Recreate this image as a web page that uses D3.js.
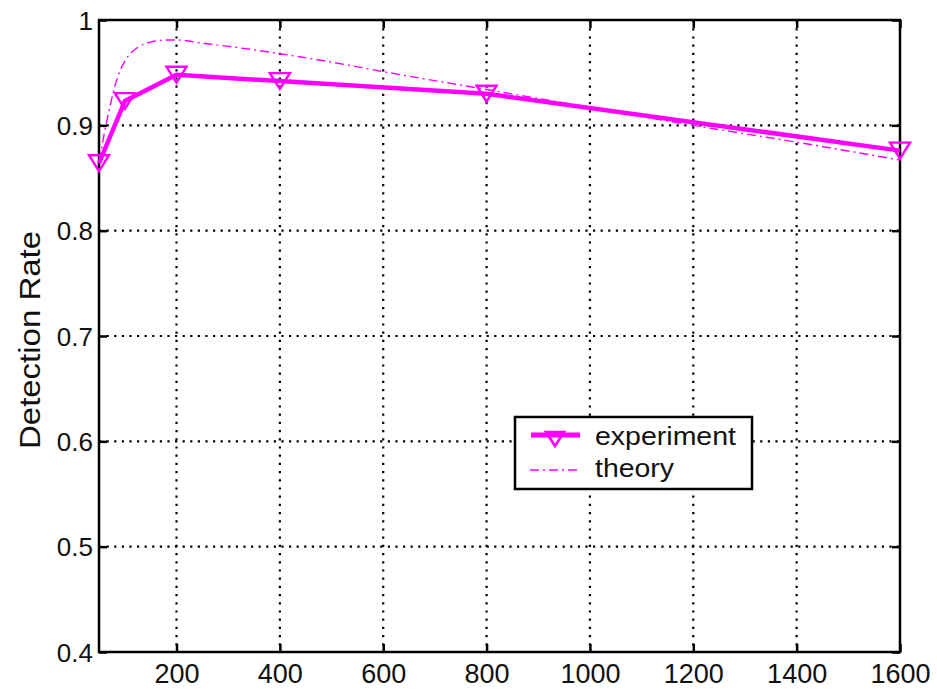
<!DOCTYPE html>
<html>
<head>
<meta charset="utf-8">
<script src="https://cdn.jsdelivr.net/npm/d3@7/dist/d3.min.js"></script>
<style>
  html, body { margin: 0; padding: 0; background: #fff; }
  svg { display: block; }
  text { font-family: "Liberation Sans", Arial, sans-serif; fill: #111; }
</style>
</head>
<body>
<svg id="chart" width="937" height="692"></svg>
<script>
// ---- data ----
const expX = [50, 100, 200, 400, 800, 1600];
const expY = [0.864, 0.923, 0.948, 0.942, 0.930, 0.876];

const theoryX = [50, 55, 60, 65, 70, 80, 90, 100, 125, 150, 180, 200, 250, 300, 400, 500, 600, 800, 1000, 1200, 1400, 1600];
const theoryY = [0.866, 0.878, 0.892, 0.904, 0.915, 0.936, 0.951, 0.961, 0.974, 0.979, 0.981, 0.981, 0.978, 0.975, 0.968, 0.960, 0.951, 0.934, 0.917, 0.900, 0.884, 0.867];

const xTicks = [200, 400, 600, 800, 1000, 1200, 1400, 1600];
const yTicks = [0.4, 0.5, 0.6, 0.7, 0.8, 0.9, 1];
const yTickLabels = ["0.4", "0.5", "0.6", "0.7", "0.8", "0.9", "1"];
const seriesNames = ["experiment", "theory"];

// ---- layout ----
const L = 99, R = 900, T = 20, B = 652;
const color = "#ff00ff";
const svg = d3.select("#chart");

const x = d3.scaleLinear().domain([50, 1600]).range([L, R]);
const y = d3.scaleLinear().domain([0.4, 1]).range([B, T]);

// grid
const grid = svg.append("g");
grid.selectAll(".vg").data(xTicks.filter(d => d < 1600)).join("line")
  .attr("x1", d => x(d)).attr("x2", d => x(d)).attr("y1", T).attr("y2", B)
  .attr("stroke", "#000").attr("stroke-width", 2.2).attr("stroke-dasharray", "2.2,6");
grid.selectAll(".hg").data(yTicks.filter(d => d > 0.4 && d < 1)).join("line")
  .attr("x1", L).attr("x2", R).attr("y1", d => y(d)).attr("y2", d => y(d))
  .attr("stroke", "#000").attr("stroke-width", 2.2).attr("stroke-dasharray", "2.2,5.4");

// axes (ticks inside on all four sides)
const tickLen = 8;
const xAxisB = d3.axisBottom(x).tickValues(xTicks).tickSize(-tickLen).tickFormat(d3.format("d"));
const xAxisT = d3.axisTop(x).tickValues(xTicks).tickSize(-tickLen).tickFormat("");
const yAxisL = d3.axisLeft(y).tickValues(yTicks).tickSize(-tickLen).tickFormat((d, i) => yTickLabels[i]);
const yAxisR = d3.axisRight(y).tickValues(yTicks).tickSize(-tickLen).tickFormat("");

function styleAxis(g) {
  g.select(".domain").remove();
  g.selectAll(".tick line").attr("stroke", "#000").attr("stroke-width", 2.5);
  g.selectAll("text").style("font-family", '"Liberation Sans", Arial, sans-serif').attr("fill", "#111");
}
svg.append("g").attr("transform", `translate(0,${B})`).call(xAxisB).call(styleAxis)
  .selectAll("text").attr("font-size", 27).attr("dy", null).attr("y", 31);
svg.append("g").attr("transform", `translate(0,${T})`).call(xAxisT).call(styleAxis);
svg.append("g").attr("transform", `translate(${L},0)`).call(yAxisL).call(styleAxis)
  .selectAll("text").attr("font-size", 26).attr("x", -6).attr("dy", "0.35em");
svg.append("g").attr("transform", `translate(${R},0)`).call(yAxisR).call(styleAxis);

// box
svg.append("rect").attr("x", L).attr("y", T).attr("width", R - L).attr("height", B - T)
  .attr("fill", "none").attr("stroke", "#000").attr("stroke-width", 2.5);

// theory line
const theory = theoryX.map((d, i) => [d, theoryY[i]]);
svg.append("path").datum(theory)
  .attr("d", d3.line().x(d => x(d[0])).y(d => y(d[1])).curve(d3.curveMonotoneX))
  .attr("fill", "none").attr("stroke", color).attr("stroke-width", 1.4)
  .attr("stroke-dasharray", "9,4,2,4");

// experiment line
const exp = expX.map((d, i) => [d, expY[i]]);
svg.append("path").datum(exp)
  .attr("d", d3.line().x(d => x(d[0])).y(d => y(d[1])))
  .attr("fill", "none").attr("stroke", color).attr("stroke-width", 4.5).attr("stroke-linejoin", "round");

// markers: downward triangle
const tri = (cx, cy, w, h) => `M${cx - w / 2},${cy - h / 2}L${cx + w / 2},${cy - h / 2}L${cx},${cy + h / 2}Z`;
svg.selectAll(".mk").data(exp).join("path")
  .attr("d", d => tri(x(d[0]), y(d[1]), 20, 16))
  .attr("fill", "none").attr("stroke", color).attr("stroke-width", 2.4).attr("stroke-linejoin", "miter");

// legend
const lg = svg.append("g");
lg.append("rect").attr("x", 515).attr("y", 417).attr("width", 237).attr("height", 72)
  .attr("fill", "#fff").attr("stroke", "#000").attr("stroke-width", 2.5);
lg.append("line").attr("x1", 531).attr("x2", 580).attr("y1", 435).attr("y2", 435)
  .attr("stroke", color).attr("stroke-width", 5);
lg.append("path").attr("d", tri(555, 439, 18, 14))
  .attr("fill", "none").attr("stroke", color).attr("stroke-width", 2.6);
lg.append("line").attr("x1", 530).attr("x2", 578).attr("y1", 470).attr("y2", 470)
  .attr("stroke", color).attr("stroke-width", 1.4).attr("stroke-dasharray", "9,4,2,4");
lg.append("text").attr("x", 595).attr("y", 445).attr("font-size", 25)
  .attr("textLength", 141).attr("lengthAdjust", "spacingAndGlyphs").text(seriesNames[0]);
lg.append("text").attr("x", 595).attr("y", 477).attr("font-size", 25)
  .attr("textLength", 79).attr("lengthAdjust", "spacingAndGlyphs").text(seriesNames[1]);

// y label
svg.append("text")
  .attr("transform", `translate(40,340) rotate(-90)`)
  .attr("text-anchor", "middle").attr("font-size", 29)
  .attr("textLength", 218).attr("lengthAdjust", "spacingAndGlyphs")
  .text("Detection Rate");
</script>
</body>
</html>
